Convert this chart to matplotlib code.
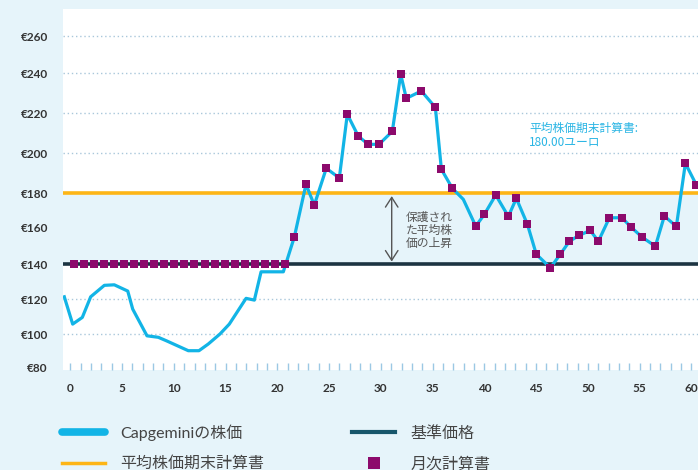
import numpy as np
import matplotlib.pyplot as plt
from matplotlib.lines import Line2D
from matplotlib.ticker import MultipleLocator, FixedLocator, FuncFormatter

# Capgemini share price (line)
price_x = [-0.58, 0.23, 1.16, 1.97, 3.29, 4.25, 5.55, 6.03, 7.41, 8.5, 9.31,
           11.4, 12.43, 13.33, 14.46, 15.36, 16.98, 17.78, 18.43, 20.58,
           21.64, 22.77, 23.57, 24.73, 25.99, 26.76, 27.83, 28.79, 29.83,
           31.11, 31.92, 32.46, 33.91, 35.27, 35.85, 36.91, 37.97, 39.17,
           40.0, 41.1, 42.32, 43.09, 44.15, 45.02, 46.38, 47.34, 48.21,
           49.18, 50.24, 51.01, 52.08, 53.3, 54.2, 55.26, 56.52, 57.39,
           58.55, 59.42, 60.48]
price_y = [121.3, 105.8, 109.6, 121.3, 127.9, 128.2, 124.6, 114.3, 99.1, 98.2,
           96.0, 90.0, 90.0, 94.1, 100.2, 105.8, 120.4, 119.4, 135.7, 135.7,
           154.6, 184.5, 173.0, 192.5, 187.7, 219.5, 208.5, 204.5, 204.5,
           211.0, 239.4, 227.4, 231.1, 222.9, 192.0, 182.5, 176.4, 160.5,
           167.5, 179.0, 166.3, 177.0, 161.8, 145.4, 138.0, 145.4, 152.3,
           155.6, 158.2, 152.3, 165.5, 165.5, 159.8, 154.5, 149.7, 166.5,
           160.4, 195.0, 184.2]

# monthly calculation points
monthly_x = [0.36, 1.35, 2.32, 3.29, 4.25, 5.22, 6.18, 7.15, 8.12, 9.08, 10.05,
             11.02, 11.98, 13.04, 14.0, 14.97, 15.94, 16.9, 17.87, 18.84, 19.8,
             20.77, 21.64, 22.77, 23.57, 24.73, 25.99, 26.76, 27.83, 28.79,
             29.83, 31.11, 31.92, 32.46, 33.91, 35.27, 35.85, 36.91, 39.17,
             40.0, 41.1, 42.32, 43.09, 44.15, 45.02, 46.38, 47.34, 48.21,
             49.18, 50.24, 51.01, 52.08, 53.3, 54.2, 55.26, 56.52, 57.39,
             58.55, 59.42, 60.48]
monthly_y = [140, 140, 140, 140, 140, 140, 140, 140, 140, 140, 140,
             140, 140, 140, 140, 140, 140, 140, 140, 140, 140,
             140, 154.6, 184.5, 173.0, 192.5, 187.7, 219.5, 208.5, 204.5,
             204.5, 211.0, 239.4, 227.4, 231.1, 222.9, 192.0, 182.5, 160.5,
             167.5, 179.0, 166.3, 177.0, 161.8, 145.4, 138.0, 145.4, 152.3,
             155.6, 158.2, 152.3, 165.5, 165.5, 159.8, 154.5, 149.7, 166.5,
             160.4, 195.0, 184.2]

base_price = 140
avg_final = 180
y_ticks = [80, 100, 120, 140, 160, 180, 200, 220, 240, 260]
grid_vals = [100, 120, 200, 220, 240, 260]

# the original axis is not evenly spaced, so map it piecewise
yk_val = np.array([60, 80, 100, 120, 140, 160, 180, 200, 220, 240, 260, 300])
yk_pos = -np.array([399.7, 367, 334.3, 299, 264.3, 227, 193.3, 153.3, 113.3,
                    73, 36, -38])


def fwd(v):
    return np.interp(v, yk_val, yk_pos)


def inv(t):
    return np.interp(t, yk_pos, yk_val)


bg = '#e6f4fa'
cyan = '#12b4e6'
purple = '#8c0a6c'
orange = '#fdb516'
navy = '#1c3442'
jp = ['Noto Sans CJK JP', 'DejaVu Sans']

fig = plt.figure(figsize=(6.98, 4.70), dpi=100, facecolor=bg)
ax = fig.add_axes([63 / 698, 1 - 370 / 470, 1 - 63 / 698, 361 / 470])
ax.set_facecolor('white')
ax.set_yscale('function', functions=(fwd, inv))
ax.set_xlim(-0.705, 60.64)
ax.set_ylim(78.2, 274.6)

for v in grid_vals:
    ax.axhline(v, color='#a9c7db', lw=1, ls=(0, (1, 2)), zorder=0.5)
ax.axhspan(base_price, avg_final, color=bg, lw=0, zorder=1)

ax.axhline(avg_final, color=orange, lw=2.6, zorder=2)
ax.axhline(base_price, color=navy, lw=2.6, zorder=2)
ax.plot(price_x, price_y, color=cyan, lw=2.3, zorder=3)
ax.plot(monthly_x, monthly_y, ls='none', marker='s', ms=6.2, mew=0,
        color=purple, zorder=4)

ax.annotate('', xy=(31.05, avg_final), xytext=(31.05, base_price),
            arrowprops=dict(arrowstyle='<->,head_length=0.7,head_width=0.45',
                            color='#555555', lw=1, shrinkA=2, shrinkB=2),
            zorder=3)
ax.text(32.4, 158.2, '保護され\nた平均株\n価の上昇', family=jp, fontsize=8.5,
        color='#555555', ha='left', va='center', linespacing=1.0)
ax.text(44.35, 208.9, '平均株価期末計算書:\n180.00ユーロ', family=jp,
        fontsize=8.5, color='#2ab5e4', ha='left', va='center', linespacing=1.15)

for s in ax.spines.values():
    s.set_visible(False)

ax.xaxis.set_major_locator(MultipleLocator(5))
ax.xaxis.set_minor_locator(MultipleLocator(1))
ax.tick_params(axis='x', which='both', direction='in', length=5, width=1,
               color='#9cc8e4', pad=9)
ax.yaxis.set_major_locator(FixedLocator(y_ticks))
ax.yaxis.set_minor_locator(FixedLocator([]))
ax.yaxis.set_major_formatter(FuncFormatter(lambda v, p: f'€{v:.0f}'))
ax.tick_params(axis='y', length=0, pad=11)
for lab in ax.get_xticklabels() + ax.get_yticklabels():
    lab.set_family('Lato')
    lab.set_fontweight('bold')
    lab.set_fontsize(8.5)
    lab.set_color('#333333')

handles = [
    Line2D([], [], color=cyan, lw=5.5, solid_capstyle='round'),
    Line2D([], [], color=orange, lw=2.5),
    Line2D([], [], color='#17566b', lw=3),
    Line2D([], [], ls='none', marker='s', ms=8, mew=0, color=purple),
]
labels = ['Capgeminiの株価', '平均株価期末計算書', '基準価格', '月次計算書']
fig.legend(handles, labels, loc='upper left', bbox_to_anchor=(62 / 698, 1 - 424 / 470),
           ncol=2, frameon=False, borderpad=0, borderaxespad=0,
           handlelength=2.7, handletextpad=0.95, columnspacing=5.5,
           labelspacing=1.0, prop={'family': ['Lato', 'Noto Sans CJK JP'], 'size': 11.5},
           labelcolor='#444444')

fig.savefig('out.png', dpi=100, facecolor=bg)
